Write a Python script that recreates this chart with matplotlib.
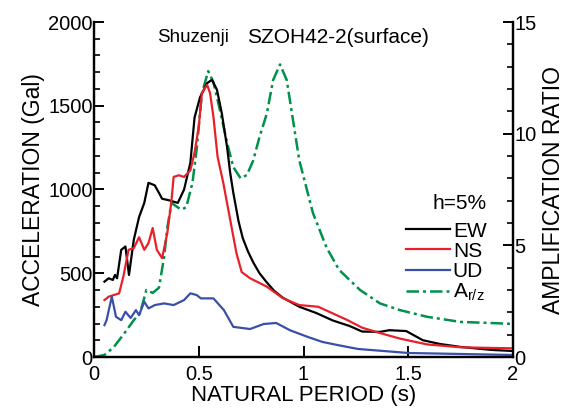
import matplotlib
matplotlib.use("Agg")
import matplotlib.pyplot as plt
from matplotlib.ticker import MultipleLocator

plt.rcParams['font.family'] = ['Liberation Sans', 'DejaVu Sans']
plt.rcParams['mathtext.fontset'] = 'custom'
plt.rcParams['mathtext.rm'] = 'Liberation Sans'
plt.rcParams['mathtext.it'] = 'Liberation Sans'

# Acceleration response spectra (h=5%), Gal
ew_period = [0.05, 0.07, 0.09, 0.10, 0.11, 0.13, 0.15, 0.167, 0.19, 0.215, 0.24, 0.26,
             0.29, 0.31, 0.325, 0.36, 0.40, 0.43, 0.46, 0.48, 0.506, 0.54, 0.563, 0.587,
             0.61, 0.635, 0.65, 0.665, 0.69, 0.71, 0.735, 0.76, 0.79, 0.825, 0.86, 0.90,
             0.98, 1.06, 1.14, 1.22, 1.28, 1.365, 1.41, 1.49, 1.57, 1.65, 1.75, 1.9, 2.0]
ew_acc = [450, 470, 460, 490, 470, 640, 660, 490, 700, 835, 920, 1040,
          1025, 980, 945, 935, 920, 1000, 1160, 1430, 1550, 1635, 1655, 1595,
          1455, 1255, 1100, 980, 810, 710, 630, 565, 500, 445, 395, 355,
          300, 263, 218, 185, 152, 150, 160, 155, 100, 78, 60, 42, 36]

ns_period = [0.05, 0.07, 0.095, 0.12, 0.14, 0.165, 0.19, 0.215, 0.24, 0.26, 0.28, 0.30,
             0.325, 0.35, 0.37, 0.38, 0.405, 0.43, 0.46, 0.48, 0.50, 0.515, 0.54, 0.554,
             0.57, 0.59, 0.617, 0.65, 0.68, 0.705, 0.745, 0.825, 0.90, 0.98, 1.07, 1.14,
             1.21, 1.28, 1.365, 1.46, 1.59, 1.75, 1.9, 2.0]
ns_acc = [340, 360, 370, 380, 480, 640, 650, 715, 640, 680, 770, 640,
          590, 740, 935, 1075, 1085, 1075, 1115, 1220, 1375, 1575, 1625, 1575,
          1435, 1195, 1040, 820, 620, 507, 470, 420, 352, 310, 300, 260,
          220, 175, 143, 110, 75, 58, 54, 52]

ud_period = [0.05, 0.06, 0.085, 0.105, 0.13, 0.15, 0.175, 0.20, 0.215, 0.24, 0.26, 0.29,
             0.335, 0.38, 0.43, 0.46, 0.49, 0.51, 0.57, 0.62, 0.665, 0.745, 0.81, 0.87,
             0.935, 1.02, 1.09, 1.16, 1.26, 1.5, 2.0]
ud_acc = [190, 220, 360, 240, 220, 270, 233, 280, 250, 330, 290, 310,
          320, 310, 340, 380, 370, 350, 350, 280, 180, 167, 197, 203,
          160, 120, 90, 72, 48, 24, 12]

# Horizontal-to-vertical amplification ratio
arz_period = [0.0, 0.05, 0.095, 0.14, 0.19, 0.22, 0.25, 0.28, 0.31, 0.335, 0.35, 0.37,
              0.415, 0.44, 0.47, 0.49, 0.515, 0.545, 0.57, 0.60, 0.635, 0.665, 0.70, 0.73,
              0.76, 0.79, 0.825, 0.855, 0.888, 0.92, 0.95, 0.98, 1.016, 1.045, 1.11, 1.17,
              1.27, 1.365, 1.46, 1.59, 1.75, 1.9, 2.0]
arz_ratio = [0.0, 0.09, 0.45, 1.0, 1.65, 1.97, 3.0, 2.87, 3.1, 4.5, 5.8, 6.9,
             6.6, 6.7, 7.8, 9.3, 11.8, 12.8, 12.3, 11.1, 9.6, 8.5, 8.0, 8.15,
             8.8, 9.85, 10.9, 12.4, 13.1, 12.4, 10.6, 8.8, 7.5, 6.45, 4.9, 3.9,
             3.0, 2.4, 2.1, 1.8, 1.57, 1.52, 1.48]

fig = plt.figure(figsize=(5.85, 4.11), dpi=100)
ax = fig.add_axes([94 / 585, 54 / 411, 419 / 585, 335 / 411])
ax2 = ax.twinx()

lw = 1.6
l_ew, = ax.plot(ew_period, ew_acc, color='black', lw=lw, label='EW')
l_ns, = ax.plot(ns_period, ns_acc, color='#e8202a', lw=lw, label='NS')
l_ud, = ax.plot(ud_period, ud_acc, color='#3a4fa8', lw=lw, label='UD')
l_arz, = ax2.plot(arz_period, arz_ratio, color='#00914a', lw=1.8,
                  linestyle=(0, (5, 1.6, 1.2, 1.6)), label=r'A$_{\mathregular{r/z}}$')

ax.set_xlim(0, 2)
ax.set_ylim(0, 2000)
ax2.set_ylim(0, 15)

for a in (ax, ax2):
    a.spines['top'].set_visible(False)
    for s in a.spines.values():
        s.set_linewidth(1.6)

ax.yaxis.set_major_locator(MultipleLocator(500))
ax.yaxis.set_minor_locator(MultipleLocator(100))
ax2.yaxis.set_major_locator(MultipleLocator(5))
ax2.yaxis.set_minor_locator(MultipleLocator(1))
ax.set_xticks([0, 0.5, 1, 1.5, 2])
ax.set_xticklabels(['0', '0.5', '1', '1.5', '2'])

ax.tick_params(axis='x', direction='in', length=8, width=1.4, labelsize=14.5, pad=6)
ax.tick_params(axis='y', which='major', direction='in', length=7, width=1.4,
               labelsize=14.5, pad=1)
ax.tick_params(axis='y', which='minor', direction='in', length=4, width=1.2)
ax2.tick_params(axis='y', which='major', direction='in', length=7, width=1.4,
                labelsize=14.5, pad=1)
ax2.tick_params(axis='y', which='minor', direction='in', length=4, width=1.2)

ax.set_xlabel('NATURAL PERIOD (s)', fontsize=16, labelpad=0.5)
ax.set_ylabel('ACCELERATION (Gal)', fontsize=16.5, labelpad=2)
ax2.set_ylabel('AMPLIFICATION RATIO', fontsize=16.5, labelpad=4)

ax.text(0.15, 0.955, 'Shuzenji', transform=ax.transAxes, fontsize=13.5,
        ha='left', va='center')
ax.text(0.365, 0.955, 'SZOH42-2(surface)', transform=ax.transAxes, fontsize=15,
        ha='left', va='center')

leg = ax.legend(handles=[l_ew, l_ns, l_ud, l_arz], title='h=5%', frameon=False,
                fontsize=15, title_fontsize=15, handlelength=2.1, handletextpad=0.15,
                labelspacing=0.05, borderpad=0, alignment='right',
                loc='upper right', bbox_to_anchor=(497 / 585, 1 - 184 / 411),
                bbox_transform=fig.transFigure)
leg._legend_box.sep = 6
ax2.set_zorder(0)
ax.set_zorder(1)
ax.patch.set_visible(False)

fig.savefig('out.png', dpi=100)
